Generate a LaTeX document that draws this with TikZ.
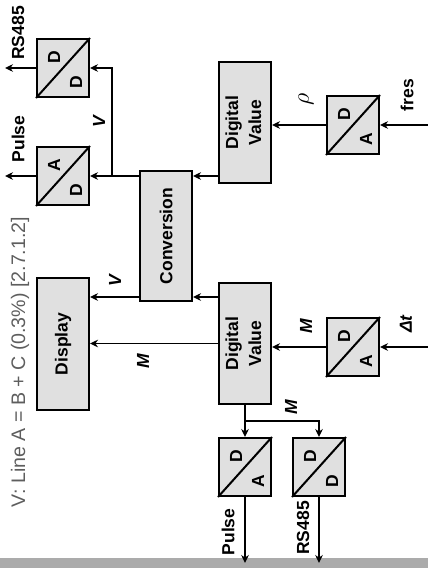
\documentclass[tikz,border=0pt]{standalone}
\usepackage{fontspec}
\setmainfont{Liberation Sans}
\usetikzlibrary{arrows.meta,calc}
\definecolor{boxgray}{HTML}{E0E0E0}
\definecolor{bandgray}{HTML}{ABABAB}
\definecolor{notegray}{HTML}{5E5E5E}

\begin{document}
\begin{tikzpicture}[
    x=0.5pt, y=-0.5pt,
    >={Stealth[length=4pt,width=3.8pt]},
    line/.style={->, line width=0.9pt},
    block/.style={
        draw, line width=1pt,
        fill=boxgray,
        inner sep=0pt,
        font=\fontsize{8.75}{11.5}\selectfont\bfseries
    },
    adc/.style={block, minimum width=26pt, minimum height=29pt},
    letter/.style={rotate=90, inner sep=0pt, font=\fontsize{8.75}{10}\selectfont\bfseries},
    io/.style={rotate=90, inner sep=0pt, font=\fontsize{8.75}{10}\selectfont\bfseries},
    sig/.style={rotate=90, inner sep=0pt, font=\fontsize{8.75}{10}\selectfont\bfseries\itshape},
    note/.style={rotate=90, inner sep=0pt, text=notegray, font=\fontsize{9.8}{12}\selectfont}
]
\useasboundingbox (0,0) rectangle (428,568);

% bottom band
\fill[bandgray] (0,558) rectangle (428,568);

% Main blocks
\node[block, minimum width=26pt, minimum height=66pt] (disp) at (63,344) {\rotatebox{90}{Display}};
\node[block, minimum width=26pt, minimum height=65pt] (conv) at (166,236) {\rotatebox{90}{Conversion}};
\node[block, minimum width=26pt, minimum height=60.5pt] (dv1) at (245,122.5)
    {\rotatebox{90}{\begin{tabular}{@{}c@{}}Digital\\Value\end{tabular}}};
\node[block, minimum width=26pt, minimum height=60.5pt] (dv2) at (245,343.5)
    {\rotatebox{90}{\begin{tabular}{@{}c@{}}Digital\\Value\end{tabular}}};

% Converters
\node[adc] (dd1) at (63,68) {};
\node[adc] (ad1) at (63,176) {};
\node[adc] (da1) at (353,125) {};
\node[adc] (da2) at (353,347) {};
\node[adc] (da3) at (245,467) {};
\node[adc] (dd2) at (319,467) {};
\foreach \n in {dd1,ad1,da1,da2,da3,dd2}
    \draw[line width=1pt] (\n.south west) -- (\n.north east);

\node[letter] (dd1a) at ($(dd1)+(-9,-11)$) {D};
\node[letter] (dd1b) at ($(dd1)+(13,14)$) {D};
\node[letter] (ad1a) at ($(ad1)+(-9,-11)$) {A};
\node[letter] (ad1b) at ($(ad1)+(13,14)$) {D};
\node[letter] (da1a) at ($(da1)+(-9,-11)$) {D};
\node[letter] (da1b) at ($(da1)+(13,14)$) {A};
\node[letter] (da2a) at ($(da2)+(-9,-11)$) {D};
\node[letter] (da2b) at ($(da2)+(13,14)$) {A};
\node[letter] (da3a) at ($(da3)+(-9,-11)$) {D};
\node[letter] (da3b) at ($(da3)+(13,14)$) {A};
\node[letter] (dd2a) at ($(dd2)+(-9,-11)$) {D};
\node[letter] (dd2b) at ($(dd2)+(13,14)$) {D};

% free ends
\coordinate (vsplit) at (112,176);
\coordinate (vrow) at (0,297);
\coordinate (msplit) at (245,421);
\coordinate (rsout1) at (5,68);
\coordinate (pulseout1) at (5,176);
\coordinate (fresin) at (428,125);
\coordinate (dtin) at (428,347);
\coordinate (pulseout2) at (245,563);
\coordinate (rsout2) at (319,563);

% Arrows
\draw[line] (conv.west |- ad1.east) -- (ad1.east);
\draw[line] (vsplit) |- (dd1.east);
\draw[line] (dv1.west |- ad1.east) -- (conv.east |- ad1.east);
\draw[line] (dv2.west |- vrow) -- (conv.east |- vrow);
\draw[line] (conv.west |- vrow) -- (disp.east |- vrow);
\draw[line] (dv2.west) -- (disp.east |- dv2.west);
\draw[line] (da1.west) -- (dv1.east |- da1.west);
\draw[line] (fresin) -- (da1.east);
\draw[line] (da2.west) -- (dv2.east |- da2.west);
\draw[line] (dtin) -- (da2.east);
\draw[line] (dv2.south) -- (da3.north);
\draw[line] (msplit) -| (dd2.north);
\draw[line] (dd1.west) -- (rsout1);
\draw[line] (ad1.west) -- (pulseout1);
\draw[line] (da3.south) -- (pulseout2);
\draw[line] (dd2.south) -- (rsout2);

% Labels
\node[io] (rs1) at (18,33) {RS485};
\node[io] (pl1) at (18,139) {Pulse};
\node[io] (pl2) at (228,532) {Pulse};
\node[io] (rs2) at (303,528) {RS485};
\node[io] (fres) at (407,95) {fres};
\node[sig] (v1) at (99,122) {V};
\node[sig] (v2) at (115,281) {V};
\node[sig] (m1) at (143,361) {M};
\node[sig] (m2) at (306,326) {M};
\node[sig] (m3) at (291,407) {M};
\node[sig] (rho) at (306,99) {\large$\rho$};
\node[sig] (dt) at (406,324) {Δt};
\node[note] (cap) at (20,362) {V: Line A = B + C (0.3\%) [2.7.1.2]};

\end{tikzpicture}
\end{document}
